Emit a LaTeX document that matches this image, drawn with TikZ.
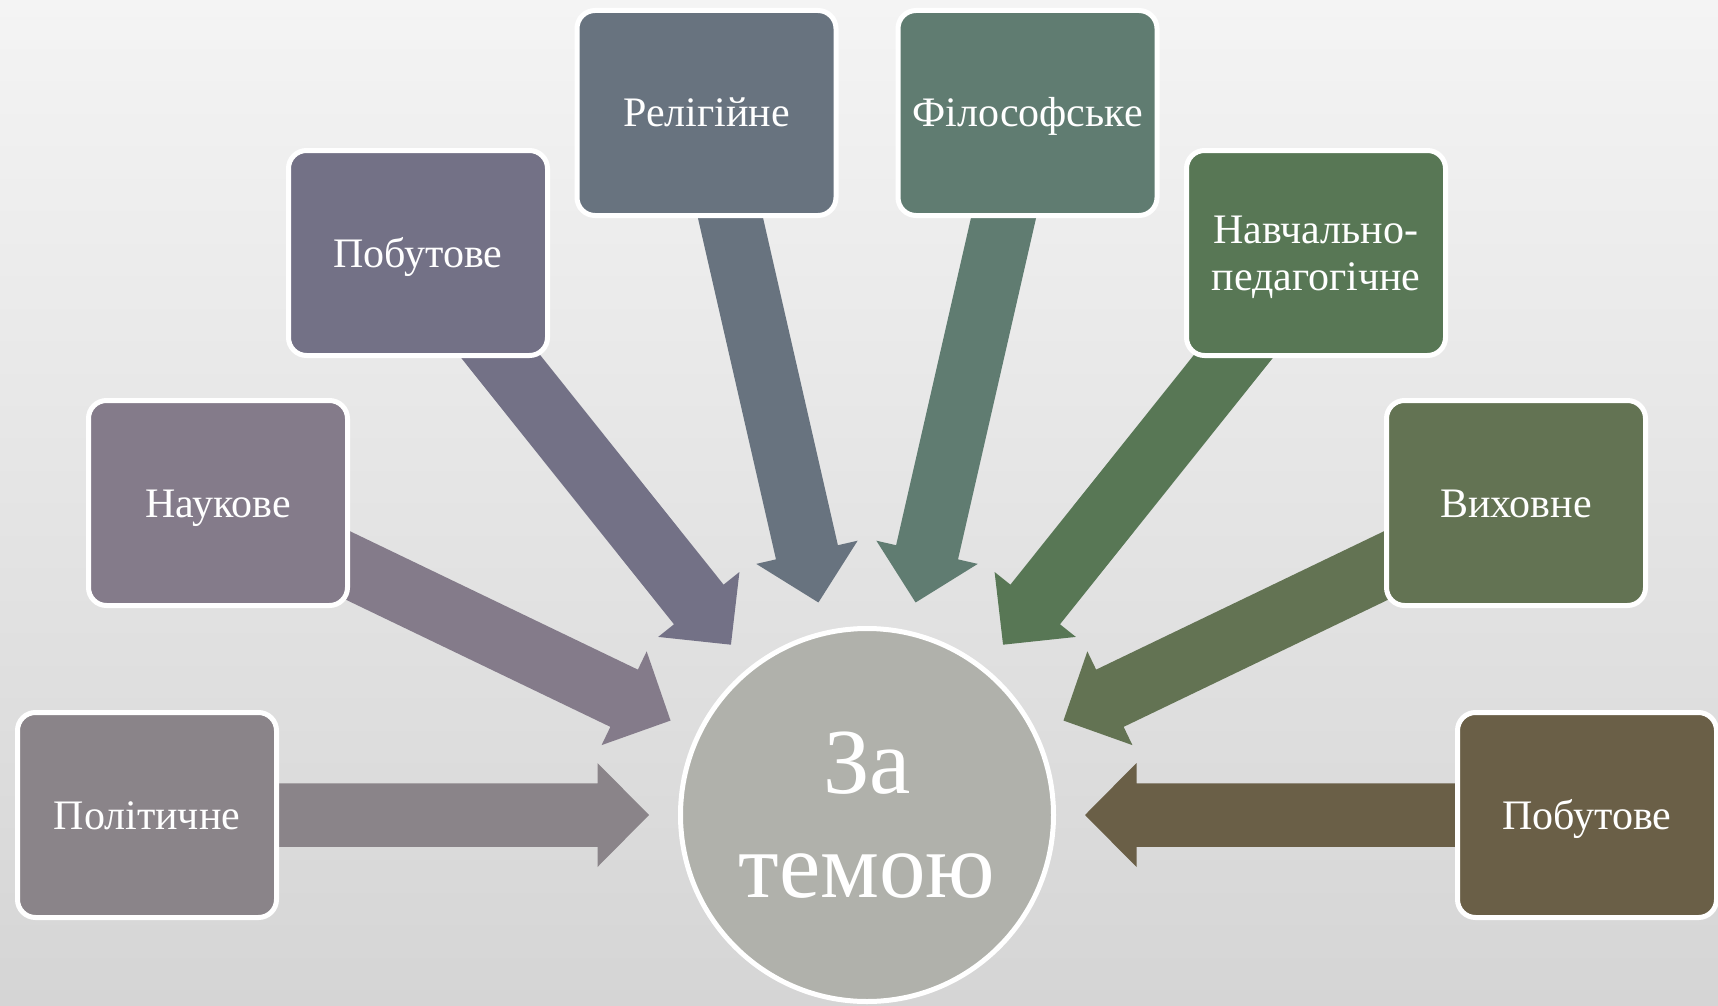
\documentclass[tikz,border=0pt]{standalone}
\usepackage{fontspec}
\setmainfont{Liberation Serif}
\usetikzlibrary{calc}
\definecolor{bgtop}{HTML}{F4F4F4}
\definecolor{bgbot}{HTML}{D5D5D5}
\definecolor{cpol}{HTML}{8A8489}
\definecolor{cnauk}{HTML}{847B8A}
\definecolor{cpobl}{HTML}{737186}
\definecolor{crel}{HTML}{68737F}
\definecolor{cfil}{HTML}{607C71}
\definecolor{cnav}{HTML}{587755}
\definecolor{cvyh}{HTML}{637353}
\definecolor{cpobr}{HTML}{6A5F47}
\definecolor{ccirc}{HTML}{B0B1AB}
\pgfdeclarelayer{bg}
\pgfdeclarelayer{arr}
\pgfsetlayers{bg,arr,main}
\newcommand\farrow[2]{%
  \coordinate (t) at ($(c.center)!218pt!(#1.center)$);
  \coordinate (h) at ($(t)!51.5pt!(#1.center)$);
  \fill[#2] ($(#1.center)!31.75pt!-90:(h)$) -- ($(h)!31.75pt!90:(#1.center)$)
    -- ($(h)!52pt!90:(#1.center)$) -- (t) -- ($(h)!52pt!-90:(#1.center)$)
    -- ($(h)!31.75pt!-90:(#1.center)$) -- ($(#1.center)!31.75pt!90:(h)$) -- cycle;}
\begin{document}
\begin{tikzpicture}[x=1pt,y=-1pt,
  box/.style={draw=white, line width=5pt, rounded corners=18pt,
    minimum width=259pt, minimum height=205pt, text=white, align=center,
    inner sep=0pt, font=\fontsize{42}{47}\selectfont},
  oneline/.style={text height=28pt, text depth=0pt}]
\useasboundingbox (0,0) rectangle (1718,1006);
\begin{pgfonlayer}{bg}
\shade[top color=bgtop, bottom color=bgbot] (0,0) rectangle (1718,1006);
\end{pgfonlayer}
\node[box, oneline, fill=cpol]  (pol)  at (147,815)  {Політичне};
\node[box, oneline, fill=cnauk] (nauk) at (218,503)  {Наукове};
\node[box, oneline, fill=cpobl] (pobl) at (418,253)  {Побутове};
\node[box, oneline, fill=crel]  (rel)  at (706.5,113) {Релігійне};
\node[box, oneline, fill=cfil]  (fil)  at (1027.5,113) {Філософське};
\node[box, text depth=0pt, fill=cnav] (nav) at (1316,253) {Навчально-\\педагогічне};
\node[box, oneline, fill=cvyh]  (vyh)  at (1516,503) {Виховне};
\node[box, oneline, fill=cpobr] (pobr) at (1587,815) {Побутове};
\node[circle, fill=ccirc, draw=white, line width=5pt, minimum size=373pt,
  inner sep=0pt, text=white, align=center, font=\fontsize{93}{104}\selectfont]
  (c) at (867,815) {За\\темою};
\begin{pgfonlayer}{arr}
\farrow{pol}{cpol}
\farrow{nauk}{cnauk}
\farrow{pobl}{cpobl}
\farrow{rel}{crel}
\farrow{fil}{cfil}
\farrow{nav}{cnav}
\farrow{vyh}{cvyh}
\farrow{pobr}{cpobr}
\end{pgfonlayer}
\end{tikzpicture}
\end{document}
